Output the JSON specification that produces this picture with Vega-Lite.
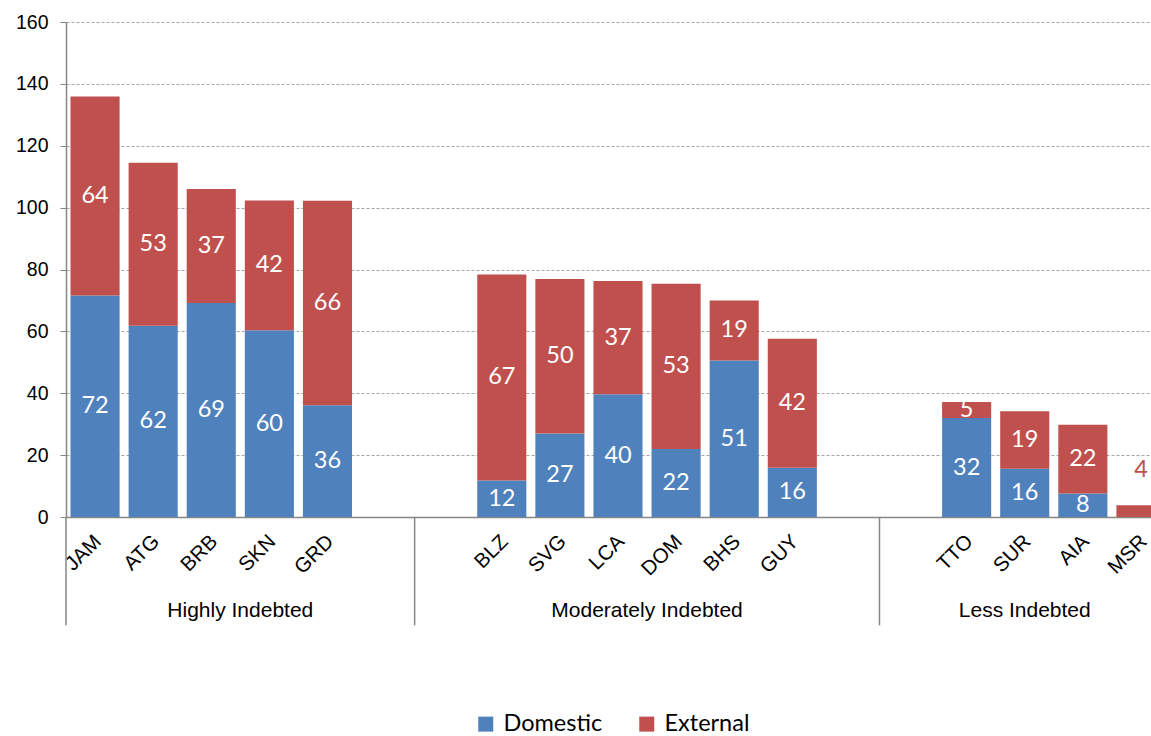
{
  "$schema": "https://vega.github.io/schema/vega-lite/v6.json",
  "width": 1085,
  "height": 495,
  "autosize": {"type": "none"},
  "padding": {"left": 66, "top": 22, "right": 0, "bottom": 219},
  "background": "white",
  "config": {"view": {"stroke": null}, "font": "Liberation Sans"},
  "datasets": {
    "debt": [
      {"cat": "JAM", "series": "Domestic", "value": 71.6},
      {"cat": "JAM", "series": "External", "value": 64.3},
      {"cat": "ATG", "series": "Domestic", "value": 61.8},
      {"cat": "ATG", "series": "External", "value": 52.7},
      {"cat": "BRB", "series": "Domestic", "value": 69.2},
      {"cat": "BRB", "series": "External", "value": 36.8},
      {"cat": "SKN", "series": "Domestic", "value": 60.4},
      {"cat": "SKN", "series": "External", "value": 41.9},
      {"cat": "GRD", "series": "Domestic", "value": 36.1},
      {"cat": "GRD", "series": "External", "value": 66.1},
      {"cat": "BLZ", "series": "Domestic", "value": 11.8},
      {"cat": "BLZ", "series": "External", "value": 66.6},
      {"cat": "SVG", "series": "Domestic", "value": 27.0},
      {"cat": "SVG", "series": "External", "value": 49.9},
      {"cat": "LCA", "series": "Domestic", "value": 39.7},
      {"cat": "LCA", "series": "External", "value": 36.6},
      {"cat": "DOM", "series": "Domestic", "value": 22.0},
      {"cat": "DOM", "series": "External", "value": 53.4},
      {"cat": "BHS", "series": "Domestic", "value": 50.6},
      {"cat": "BHS", "series": "External", "value": 19.4},
      {"cat": "GUY", "series": "Domestic", "value": 15.9},
      {"cat": "GUY", "series": "External", "value": 41.7},
      {"cat": "TTO", "series": "Domestic", "value": 32.0},
      {"cat": "TTO", "series": "External", "value": 5.2},
      {"cat": "SUR", "series": "Domestic", "value": 15.6},
      {"cat": "SUR", "series": "External", "value": 18.6},
      {"cat": "AIA", "series": "Domestic", "value": 7.6},
      {"cat": "AIA", "series": "External", "value": 22.2},
      {"cat": "MSR", "series": "Domestic", "value": 0},
      {"cat": "MSR", "series": "External", "value": 3.8}
    ],
    "seps": [{"cat": "JAM"}, {"cat": "_2"}, {"cat": "_4"}],
    "groups": [
      {"cat": "SKN", "group": "Highly Indebted"},
      {"cat": "DOM", "group": "Moderately Indebted"}
    ],
    "groups2": [{"cat": "SUR", "group": "Less Indebted"}]
  },
  "layer": [
    {
      "data": {"name": "debt"},
      "mark": {"type": "bar", "width": {"band": 0.845}},
      "encoding": {
        "x": {
          "field": "cat",
          "type": "nominal",
          "scale": {
            "domain": ["JAM", "ATG", "BRB", "SKN", "GRD", "_1", "_2", "BLZ", "SVG", "LCA", "DOM", "BHS", "GUY", "_3", "_4", "TTO", "SUR", "AIA", "MSR"],
            "range": [0, 1104],
            "paddingInner": 0,
            "paddingOuter": 0
          },
          "axis": {
            "title": null,
            "ticks": false,
            "grid": false,
            "domainColor": "#868686",
            "domainWidth": 1.5,
            "labelAngle": -45,
            "labelFontSize": 20.5,
            "labelColor": "black",
            "labelPadding": 14,
            "labelOffset": -4,
            "labelOverlap": false,
            "labelExpr": "indexof(datum.label, '_') == 0 ? '' : datum.label"
          }
        },
        "y": {
          "field": "value",
          "type": "quantitative",
          "stack": "zero",
          "scale": {"domain": [0, 160]},
          "axis": {
            "title": null,
            "values": [0, 20, 40, 60, 80, 100, 120, 140, 160],
            "grid": true,
            "gridDash": [3, 2],
            "gridColor": "#a6a6a6",
            "domainColor": "#868686",
            "domainWidth": 1.5,
            "tickColor": "#868686",
            "tickSize": 6,
            "labelFontSize": 19.5,
            "labelColor": "black",
            "labelPadding": 12
          }
        },
        "color": {
          "field": "series",
          "type": "nominal",
          "scale": {"domain": ["Domestic", "External"], "range": ["#4F81BD", "#C0504D"]},
          "legend": {
            "title": null,
            "orient": "none",
            "direction": "horizontal",
            "legendX": 408,
            "legendY": 690,
            "symbolType": "square",
            "symbolSize": 225,
            "symbolStrokeWidth": 0,
            "labelFont": "Lato",
            "labelFontSize": 23.5,
            "labelColor": "black",
            "columnPadding": 32,
            "labelOffset": 6,
            "padding": 0
          }
        },
        "order": {"field": "series", "type": "nominal", "sort": "ascending"}
      }
    },
    {
      "data": {"name": "debt"},
      "transform": [{"filter": "datum.cat != 'MSR'"}],
      "mark": {"type": "text", "font": "Lato", "fontSize": 23.5, "color": "white", "baseline": "middle"},
      "encoding": {
        "x": {"field": "cat", "type": "nominal"},
        "y": {"field": "value", "type": "quantitative", "stack": "zero", "bandPosition": 0.5},
        "detail": {"field": "series", "type": "nominal"},
        "order": {"field": "series", "type": "nominal", "sort": "ascending"},
        "text": {"field": "value", "type": "quantitative", "format": ".0f"}
      }
    },
    {
      "data": {"name": "debt"},
      "transform": [{"filter": "datum.cat == 'MSR' && datum.series == 'External'"}],
      "mark": {"type": "text", "font": "Lato", "fontSize": 23.5, "color": "#C0504D", "baseline": "middle", "dy": -35},
      "encoding": {
        "x": {"field": "cat", "type": "nominal"},
        "y": {"field": "value", "type": "quantitative", "stack": null},
        "text": {"field": "value", "type": "quantitative", "format": ".0f"}
      }
    },
    {
      "data": {"name": "seps"},
      "mark": {"type": "rule", "color": "#868686", "strokeWidth": 1.5},
      "encoding": {
        "x": {"field": "cat", "type": "nominal", "bandPosition": 0},
        "y": {"datum": 0},
        "y2": {"datum": -35}
      }
    },
    {
      "data": {"name": "groups"},
      "mark": {"type": "text", "fontSize": 21, "color": "black", "baseline": "middle"},
      "encoding": {
        "x": {"field": "cat", "type": "nominal", "bandPosition": 0},
        "y": {"datum": -30.5},
        "text": {"field": "group"}
      }
    },
    {
      "data": {"name": "groups2"},
      "mark": {"type": "text", "fontSize": 21, "color": "black", "baseline": "middle"},
      "encoding": {
        "x": {"field": "cat", "type": "nominal", "bandPosition": 0.5},
        "y": {"datum": -30.5},
        "text": {"field": "group"}
      }
    }
  ]
}
